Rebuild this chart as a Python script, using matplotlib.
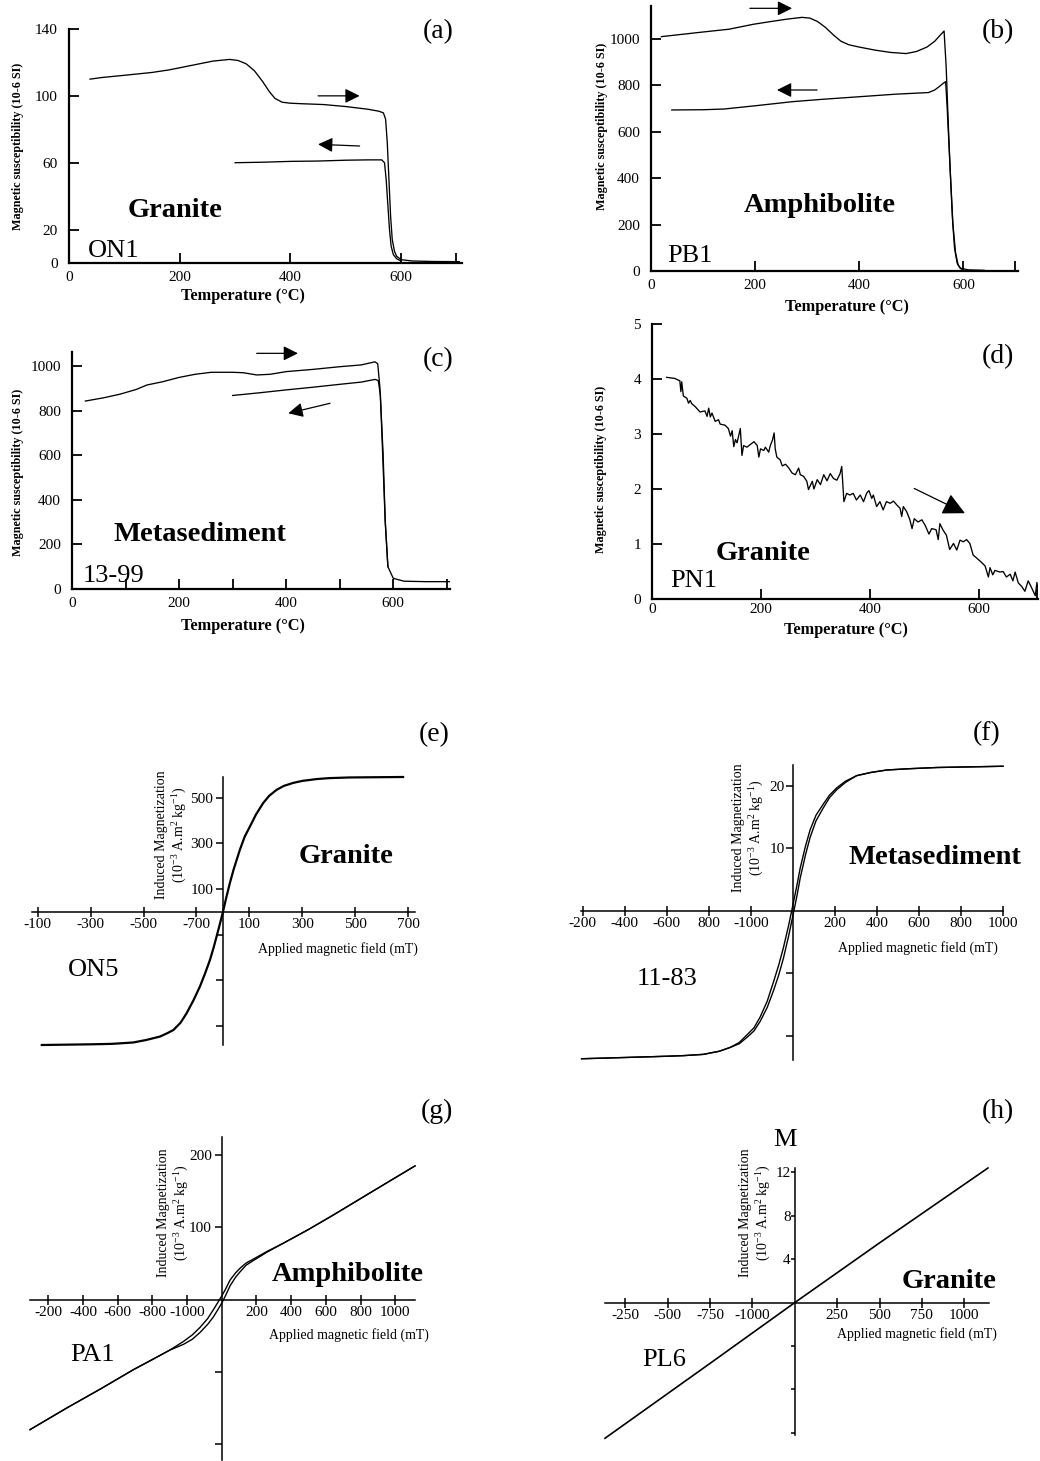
import matplotlib
matplotlib.use('Agg')
import matplotlib.pyplot as plt

plt.rcParams['font.family'] = ['Liberation Serif', 'DejaVu Serif']
plt.rcParams['mathtext.fontset'] = 'custom'
plt.rcParams['mathtext.rm'] = 'Liberation Serif'
plt.rcParams['mathtext.it'] = 'Liberation Serif:italic'
plt.rcParams['mathtext.bf'] = 'Liberation Serif:bold'

# ---------------- data ----------------
# (a) ON1 granite
a_heat_T = [38, 60, 100, 150, 180, 200, 230, 260, 290, 305,
            320, 335, 350, 362, 372, 385, 400, 420, 460, 500,
            540, 560, 568, 572, 575, 578, 581, 584, 588, 592,
            600, 620, 660, 705]
a_heat_k = [110, 111, 112.3, 114, 115.5, 116.8, 118.8, 120.8, 121.8, 121.2,
            119.2, 115, 108.5, 102.5, 98.5, 96.2, 95.6, 95.3, 94.8, 93.6,
            92, 90.8, 89.8, 86, 72, 50, 28, 14, 7, 4,
            2, 1.2, 0.9, 0.8]
a_cool_T = [300, 350, 400, 450, 500, 540, 565, 570, 573, 576, 579, 582, 586, 592, 600]
a_cool_k = [60, 60.3, 60.8, 61, 61.5, 61.7, 61.7, 60, 50, 35, 20, 10, 5, 2.5, 1.2]

# (b) PB1 amphibolite
b_heat_T = [20, 60, 100, 150, 196, 230, 260, 290, 305, 320,
            335, 350, 365, 380, 400, 430, 460, 490, 510, 530,
            545, 555, 563, 567, 571, 575, 579, 583, 588, 594,
            610, 640]
b_heat_k = [1010, 1020, 1030, 1042, 1063, 1075, 1085, 1093, 1090, 1075,
            1050, 1018, 990, 975, 965, 952, 942, 937, 946, 965,
            990, 1015, 1034, 880, 640, 420, 230, 100, 35, 12,
            5, 3]
b_cool_T = [40, 100, 140, 200, 273, 330, 400, 470, 533, 545, 555, 562, 566, 569, 572, 576, 580, 585, 590, 596]
b_cool_k = [694, 695, 698, 712, 730, 740, 751, 762, 769, 780, 797, 810, 816, 700, 560, 380, 200, 80, 25, 8]

# (c) 13-99 metasediment
c_heat_T = [25, 60, 90, 120, 140, 170, 200, 230, 260, 300, 320, 345, 370, 400, 450, 500, 540, 566, 571, 575, 578, 581, 585, 590, 600, 620, 660, 705]
c_heat_k = [843, 858, 874, 895, 915, 930, 949, 963, 972, 972, 970, 960, 963, 975, 985, 997, 1005, 1019, 1010, 907, 760, 610, 309, 100, 48, 35, 33, 33]
c_cool_T = [300, 350, 400, 450, 500, 540, 566, 572, 576, 580, 585, 590]
c_cool_k = [868, 880, 893, 905, 918, 928, 940, 935, 870, 620, 300, 100]

# (d) PN1 granite
d_T = [27, 42, 48, 51, 53, 54.5, 57.5, 64, 67, 70,
       73, 79, 88, 97, 101, 104, 107, 110, 116, 122,
       125, 134, 140, 144, 147, 150, 153, 156, 162, 165,
       168, 174, 187, 193, 196, 199, 205, 208, 214, 217,
       221, 224, 226, 229, 235, 239, 245, 251, 257, 263,
       269, 272, 278, 284, 287, 294, 297, 303, 309, 315,
       321, 327, 333, 339, 345, 348, 352, 357, 363, 369,
       375, 382, 388, 394, 398, 403, 406, 412, 418, 424,
       430, 437, 443, 449, 455, 458, 461, 467, 473, 477,
       481, 488, 495, 501, 508, 513, 521, 525, 528, 534,
       540, 546, 553, 559, 565, 571, 577, 583, 589, 596,
       605, 611, 617, 620, 625, 629, 638, 644, 650, 657,
       662, 666, 672, 678, 684, 690, 696, 703, 706, 709]
d_k = [4.03, 4.01, 3.98, 3.97, 3.77, 3.95, 3.69, 3.65, 3.56, 3.61,
       3.55, 3.50, 3.40, 3.42, 3.32, 3.47, 3.31, 3.38, 3.23, 3.26,
       3.18, 3.16, 3.10, 2.96, 3.06, 2.77, 2.90, 2.84, 3.10, 2.61,
       2.79, 2.76, 2.86, 2.79, 2.58, 2.73, 2.70, 2.76, 2.67, 2.79,
       2.89, 3.02, 2.73, 2.58, 2.53, 2.42, 2.45, 2.38, 2.29, 2.26,
       2.38, 2.26, 2.23, 2.14, 1.99, 2.14, 2.00, 2.17, 2.08, 2.26,
       2.15, 2.28, 2.19, 2.16, 2.28, 2.41, 1.77, 1.92, 1.89, 1.92,
       1.80, 1.89, 1.77, 1.93, 1.97, 1.83, 1.89, 1.68, 1.77, 1.62,
       1.77, 1.74, 1.78, 1.71, 1.65, 1.50, 1.68, 1.59, 1.44, 1.28,
       1.46, 1.40, 1.44, 1.34, 1.18, 1.28, 1.26, 1.08, 1.37, 1.25,
       1.16, 0.90, 1.01, 0.89, 1.07, 1.04, 1.08, 1.01, 0.80, 0.74,
       0.66, 0.60, 0.40, 0.57, 0.44, 0.52, 0.49, 0.50, 0.40, 0.45,
       0.33, 0.49, 0.29, 0.23, 0.14, 0.33, 0.21, 0.06, 0.30, 0.09]

# (e) ON5 granite hysteresis
e_H = [-684, -500, -420, -339, -290, -238, -210, -187, -160, -137,
       -112, -87, -68, -49, -36, -24, -12, 0, 12, 26,
       40, 64, 82, 102, 125, 152, 175, 203, 230, 265,
       300, 354, 400, 479, 680]
e_M = [-585, -582, -580, -574, -563, -548, -533, -519, -487, -445,
       -390, -328, -272, -211, -160, -108, -55, 0, 60, 126,
       185, 273, 330, 375, 428, 478, 510, 536, 553, 566,
       575, 583, 587, 590, 592]

# (f) 11-83 metasediment hysteresis (two branches)
f_H = [-1005, -800, -600, -520, -426, -350, -299, -255, -219, -185,
       -156, -122, -92, -68, -45, -20, 0, 20, 35, 60,
       82, 110, 146, 175, 209, 250, 304, 370, 447, 550,
       686, 1000]
f_up = [-23.7, -23.5, -23.3, -23.2, -23.0, -22.5, -21.9, -21.1, -19.9, -18.75,
        -17.05, -14.5, -11.4, -8.8, -5.95, -2.35, 0.85, 4.15, 6.8, 10.3,
        12.9, 15.25, 17.1, 18.5, 19.65, 20.7, 21.6, 22.1, 22.5, 22.7,
        22.9, 23.1]
f_dn = [-23.7, -23.5, -23.3, -23.2, -23.0, -22.5, -21.9, -21.3, -20.3, -19.25,
        -17.75, -15.5, -12.8, -10.4, -7.65, -4.05, -0.85, 2.45, 5.2, 8.9,
        11.7, 14.35, 16.5, 18.1, 19.35, 20.5, 21.6, 22.1, 22.5, 22.7,
        22.9, 23.1]

# (g) PA1 amphibolite hysteresis (two branches)
g_H = [-1105, -893, -701, -509, -400, -300, -221, -170, -125, -80,
       -48, -20, 0, 20, 48, 80, 106, 140, 182, 260,
       355, 500, 643, 850, 1114]
g_up = [-180, -150, -124, -97, -83, -70, -58, -49, -38.5, -26,
        -14, -3, 5, 13.5, 27, 37, 43.5, 50.5, 56, 66.5,
        78, 97, 117, 147, 185]
g_dn = [-180, -150, -124, -97, -83, -70, -62, -55, -45.5, -34,
        -24, -13, -5, 4.5, 19, 31, 38.5, 47.5, 54, 65.5,
        78, 97, 117, 147, 185]

# (h) PL6 granite
h_H = [-1120, -500, 0, 500, 1140]
h_M = [-12.5, -5.6, 0, 5.5, 12.4]

# tick labels as printed
e_xt = [-700, -500, -300, -100, 100, 300, 500, 700]
e_xtl = ['-100', '-300', '-500', '-700', '100', '300', '500', '700']
e_yt = [-500, -300, -100, 100, 300, 500]
e_ytl = ['', '', '', '100', '300', '500']
f_xt = [-1000, -800, -600, -400, -200, 200, 400, 600, 800, 1000]
f_xtl = ['-200', '-400', '-600', '800', '-1000', '200', '400', '600', '800', '1000']
f_yt = [-20, -10, 10, 20]
f_ytl = ['', '', '10', '20']
g_xt = [-1000, -800, -600, -400, -200, 200, 400, 600, 800, 1000]
g_xtl = ['-200', '-400', '-600', '-800', '-1000', '200', '400', '600', '800', '1000']
g_yt = [-200, -100, 100, 200]
g_ytl = ['', '', '100', '200']
h_xt = [-1000, -750, -500, -250, 250, 500, 750, 1000]
h_xtl = ['-250', '-500', '-750', '-1000', '250', '500', '750', '1000']
h_yt = [-12, -8, -4, 4, 8, 12]
h_ytl = ['', '', '', '4', '8', '12']

# ---------------- figure ----------------
W, H = 1040, 1461
fig = plt.figure(figsize=(W / 100, H / 100), dpi=100)


def add_ax(l, t, r, b):
    ax = fig.add_axes([l / W, 1 - b / H, (r - l) / W, (b - t) / H])
    ax.patch.set_alpha(0)
    return ax


def ftext(x, y, s, **kw):
    return fig.text(x / W, 1 - y / H, s, **kw)


def style_top(ax, xlim, ylim, yticks, xminor, xpad=6):
    ax.set_xlim(*xlim)
    ax.set_ylim(*ylim)
    for s in ['top', 'right']:
        ax.spines[s].set_visible(False)
    for s in ['left', 'bottom']:
        ax.spines[s].set_linewidth(1.6)
    ax.set_xticks([0, 200, 400, 600])
    ax.set_xticks(xminor, minor=True)
    ax.set_yticks(yticks)
    ax.tick_params(which='both', direction='in', width=1.3, length=7, labelsize=11)
    ax.tick_params(axis='x', pad=xpad)
    ax.tick_params(axis='y', pad=8)


def style_low(ax, xlim, ylim, xt, xtl, yt, ytl, ypad=2, ylen=5):
    ax.set_xlim(*xlim)
    ax.set_ylim(*ylim)
    for s in ['top', 'right']:
        ax.spines[s].set_visible(False)
    for s in ['left', 'bottom']:
        ax.spines[s].set_position(('data', 0))
        ax.spines[s].set_linewidth(1.1)
    ax.set_xticks(xt)
    ax.set_xticklabels(xtl)
    ax.set_yticks(yt)
    ax.set_yticklabels(ytl)
    ax.tick_params(axis='x', direction='inout', length=7, width=1.1, labelsize=11, pad=1)
    ax.tick_params(axis='y', direction='out', length=ylen, width=1.1, labelsize=11, pad=ypad)


def arrow(ax, tail, head, ms=22):
    ax.annotate('', xy=head, xytext=tail, annotation_clip=False,
                arrowprops=dict(arrowstyle='-|>', color='k', lw=0.9,
                                mutation_scale=ms, shrinkA=0, shrinkB=0))


LW = 0.95
YLAB = 'Magnetic susceptibility (10-6 SI)'
XLAB = 'Temperature (°C)'
YLS = 8.7
XLS = 11.8
BIG = 20.5
ID = 19
LET = 20

# (a)
ax = add_ax(69, 29, 462, 263)
style_top(ax, (0, 710), (0, 140), [0, 20, 60, 100, 140], [700])
ax.plot(a_heat_T, a_heat_k, color='k', lw=LW)
ax.plot(a_cool_T, a_cool_k, color='k', lw=LW)
arrow(ax, (450, 100), (525, 100))
arrow(ax, (525, 70), (450, 71))
ftext(438, 32, '(a)', fontsize=LET, ha='center', va='center')
ftext(175, 217, 'Granite', fontsize=BIG, weight='bold', ha='center', va='baseline')
ftext(88, 257, 'ON1', fontsize=ID, ha='left', va='baseline')
ftext(18, 146, YLAB, fontsize=YLS, weight='bold', rotation=90, ha='center', va='center')
ftext(243, 296, XLAB, fontsize=XLS, weight='bold', ha='center', va='center')

# (b)
ax = add_ax(651, 6, 1018, 271)
style_top(ax, (0, 705), (0, 1142), [0, 200, 400, 600, 800, 1000], [700])
ax.plot(b_heat_T, b_heat_k, color='k', lw=LW)
ax.plot(b_cool_T, b_cool_k, color='k', lw=LW)
arrow(ax, (190, 1132), (271, 1132))
arrow(ax, (319, 780), (242, 780))
ftext(998, 32, '(b)', fontsize=LET, ha='center', va='center')
ftext(820, 212, 'Amphibolite', fontsize=BIG, weight='bold', ha='center', va='baseline')
ftext(667, 262, 'PB1', fontsize=ID, ha='left', va='baseline')
ftext(602, 126, YLAB, fontsize=YLS, weight='bold', rotation=90, ha='center', va='center')
ftext(847, 307, XLAB, fontsize=XLS, weight='bold', ha='center', va='center')

# (c)
ax = add_ax(72, 352, 450, 589)
style_top(ax, (0, 706), (0, 1063), [0, 200, 400, 600, 800, 1000], [100, 300, 500, 700])
ax.plot(c_heat_T, c_heat_k, color='k', lw=LW)
ax.plot(c_cool_T, c_cool_k, color='k', lw=LW)
arrow(ax, (345, 1057), (422, 1057))
arrow(ax, (482, 833), (404, 788))
ftext(438, 360, '(c)', fontsize=LET, ha='center', va='center')
ftext(200, 541, 'Metasediment', fontsize=BIG, weight='bold', ha='center', va='baseline')
ftext(83, 582, '13-99', fontsize=ID, ha='left', va='baseline')
ftext(18, 472, YLAB, fontsize=YLS, weight='bold', rotation=90, ha='center', va='center')
ftext(243, 626, XLAB, fontsize=XLS, weight='bold', ha='center', va='center')

# (d)
ax = add_ax(652, 324, 1038, 599)
style_top(ax, (0, 708), (0, 5), [0, 1, 2, 3, 4, 5], [706], xpad=3)
ax.plot(d_T, d_k, color='k', lw=LW)
arrow(ax, (481, 2.01), (574, 1.56), ms=34)
ftext(998, 357, '(d)', fontsize=LET, ha='center', va='center')
ftext(763, 560, 'Granite', fontsize=BIG, weight='bold', ha='center', va='baseline')
ftext(670, 587, 'PN1', fontsize=ID, ha='left', va='baseline')
ftext(601, 469, YLAB, fontsize=YLS, weight='bold', rotation=90, ha='center', va='center')
ftext(846, 630, XLAB, fontsize=XLS, weight='bold', ha='center', va='center')

MLAB = 'Induced Magnetization\n(10$^{-3}$ A.m$^{2}$ kg$^{-1}$)'
ALAB = 'Applied magnetic field (mT)'

# (e)
ax = add_ax(32, 777, 415, 1045)
style_low(ax, (-721, 725), (-585, 592), e_xt, e_xtl, e_yt, e_ytl, ypad=2)
ax.plot(e_H, e_M, color='k', lw=1.6, clip_on=False)
ftext(434, 735, '(e)', fontsize=LET, ha='center', va='center')
ftext(346, 863, 'Granite', fontsize=BIG, weight='bold', ha='center', va='baseline')
ftext(68, 976, 'ON5', fontsize=ID, ha='left', va='baseline')
ftext(418, 949, ALAB, fontsize=10, ha='right', va='center')
ftext(172, 835, MLAB, fontsize=10, rotation=90, ha='center', va='center', linespacing=1.15)

# (f)
ax = add_ax(581, 765, 1003, 1060)
style_low(ax, (-1008, 1000), (-23.9, 23.3), f_xt, f_xtl, f_yt, f_ytl, ypad=1)
ax.plot(f_H, f_up, color='k', lw=1.0, clip_on=False)
ax.plot(f_H, f_dn, color='k', lw=1.0, clip_on=False)
ftext(987, 734, '(f)', fontsize=LET, ha='center', va='center')
ftext(935, 864, 'Metasediment', fontsize=BIG, weight='bold', ha='center', va='baseline')
ftext(637, 985, '11-83', fontsize=ID, ha='left', va='baseline')
ftext(998, 948, ALAB, fontsize=10, ha='right', va='center')
ftext(749, 828, MLAB, fontsize=10, rotation=90, ha='center', va='center', linespacing=1.15)

# (g)
ax = add_ax(30, 1137, 415, 1460)
style_low(ax, (-1105, 1114), (-222, 225), g_xt, g_xtl, g_yt, g_ytl, ypad=2)
ax.plot(g_H, g_up, color='k', lw=1.0, clip_on=False)
ax.plot(g_H, g_dn, color='k', lw=1.0, clip_on=False)
ftext(437, 1111, '(g)', fontsize=LET, ha='center', va='center')
ftext(348, 1281, 'Amphibolite', fontsize=BIG, weight='bold', ha='center', va='baseline')
ftext(70, 1361, 'PA1', fontsize=ID, ha='left', va='baseline')
ftext(429, 1335, ALAB, fontsize=10, ha='right', va='center')
ftext(174, 1213, MLAB, fontsize=10, rotation=90, ha='center', va='center', linespacing=1.15)

# (h)
ax = add_ax(605, 1168, 989, 1435)
style_low(ax, (-1120, 1146), (-12.2, 12.4), h_xt, h_xtl, h_yt, h_ytl, ypad=0, ylen=3)
ax.plot(h_H, h_M, color='k', lw=1.2, clip_on=False)
ftext(998, 1112, '(h)', fontsize=LET, ha='center', va='center')
ftext(785, 1140, 'M', fontsize=ID, ha='center', va='center')
ftext(949, 1288, 'Granite', fontsize=BIG, weight='bold', ha='center', va='baseline')
ftext(642, 1366, 'PL6', fontsize=ID, ha='left', va='baseline')
ftext(997, 1334, ALAB, fontsize=10, ha='right', va='center')
ftext(756, 1213, MLAB, fontsize=10, rotation=90, ha='center', va='center', linespacing=1.15)

fig.savefig('out.png', dpi=100)
